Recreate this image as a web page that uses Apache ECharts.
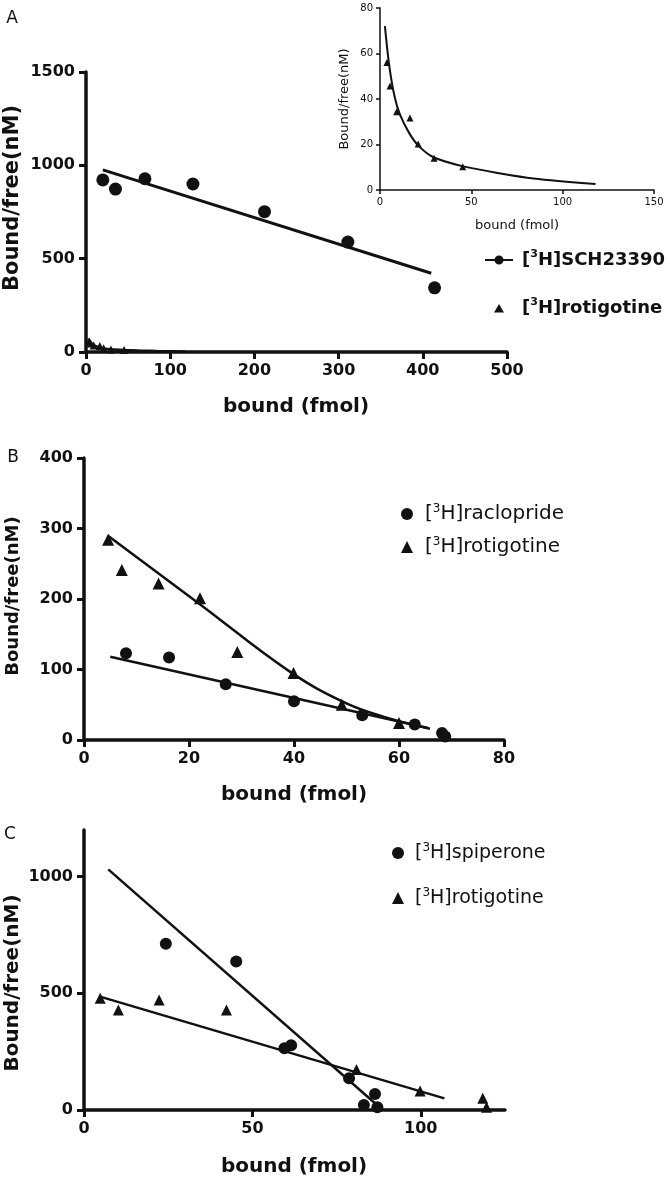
<!DOCTYPE html>
<html>
<head>
<meta charset="utf-8">
<script src="https://cdn.jsdelivr.net/npm/echarts@6.0.0/dist/echarts.min.js"></script>
<style>
  html, body { margin: 0; padding: 0; background: #fff; }
  #chart { width: 670px; height: 1182px; }
</style>
</head>
<body>
<div id="chart"></div>
<script>
// panel A: [3H]SCH23390 scatchard
const schX = [20, 35, 70, 127, 212, 311, 414]
const schY = [922, 873, 928, 900, 752, 589, 344]
const schFitX = [20, 410]
const schFitY = [976, 422]

// panel A (and inset): [3H]rotigotine
const rotAX = [3.8, 5.5, 9.1, 16.4, 20.9, 29.6, 45.3]
const rotAY = [56, 45.7, 34.4, 31.6, 20.2, 14, 10.2]
const rotACurveX = [2.7, 5, 8, 11, 16, 21, 29, 45, 66, 84, 118]
const rotACurveY = [72, 55, 41, 33, 25, 19.5, 14.5, 10.5, 7.3, 5.1, 2.6]

// panel B
const raclX = [8, 16.2, 27, 40, 53, 63, 68.2, 68.8]
const raclY = [123, 117, 79, 55, 35, 22, 10, 5]
const raclFitX = [5, 65.5]
const raclFitY = [118, 17]
const rotBX = [4.6, 7.2, 14.2, 22.1, 29.2, 39.9, 49.1, 60]
const rotBY = [284, 241, 222, 201, 125, 95, 50, 24]
const rotBFitX = [4.5, 22, 39.2, 50, 58, 65.9]
const rotBFitY = [290, 193, 97, 52, 31, 16]

// panel C
const spipX = [24.3, 45.2, 59.5, 61.5, 78.7, 83.1, 86.4, 87.1]
const spipY = [713, 636, 265, 278, 136, 21, 69, 12]
const spipFitX = [7.2, 87.5]
const spipFitY = [1031, 15]
const rotCX = [4.8, 10.2, 22.3, 42.3, 80.9, 99.8, 118.4, 119.5]
const rotCY = [479, 429, 471, 429, 174, 81, 50, 12]
const rotCFitX = [5, 107]
const rotCFitY = [485, 50]

// tick values
const ticksAX = [0, 100, 200, 300, 400, 500]
const ticksAY = [0, 500, 1000, 1500]
const ticksInsetX = [0, 50, 100, 150]
const ticksInsetY = [0, 20, 40, 60, 80]
const ticksBX = [0, 20, 40, 60, 80]
const ticksBY = [0, 100, 200, 300, 400]
const ticksCX = [0, 50, 100]
const ticksCY = [0, 500, 1000]

const ink = '#111'
const fam = 'DejaVu Sans'

const pairs = (xs, ys) => xs.map((x, i) => [x, ys[i]])

function axis(gridIndex, max, ticks, opt) {
    return {
        type: 'value',
        gridIndex: gridIndex,
        min: 0,
        max: max,
        splitLine: { show: false },
        axisLine: { show: true, onZero: false, lineStyle: { color: ink, width: opt.lw } },
        axisTick: { show: true, length: opt.tl, customValues: ticks, lineStyle: { color: ink, width: opt.tw } },
        axisLabel: {
            customValues: ticks,
            formatter: (v) => String(v),
            margin: opt.margin,
            color: ink,
            fontFamily: fam,
            fontWeight: opt.bold ? 'bold' : 'normal',
            fontSize: opt.fs
        }
    }
}

const big = { lw: 3.5, tl: 7, tw: 3, margin: 11, bold: true, fs: 16 }
const small = { lw: 1.5, tl: 4, tw: 1.5, margin: 7, bold: false, fs: 10 }

function scatter(name, xi, data, symbol, size) {
    return {
        name: name, type: 'scatter', xAxisIndex: xi, yAxisIndex: xi,
        data: data, symbol: symbol, symbolSize: size,
        itemStyle: { color: ink, opacity: 1 }, z: 5
    }
}

function fit(name, xi, data, width, smooth) {
    return {
        name: name, type: 'line', xAxisIndex: xi, yAxisIndex: xi,
        data: data, showSymbol: false, symbol: 'none',
        smooth: smooth || false,
        lineStyle: { color: ink, width: width }, z: 3, silent: true
    }
}

function label(text, x, y, size, weight, rotate) {
    return {
        type: 'text', x: x, y: y, rotation: rotate ? Math.PI / 2 : 0,
        style: {
            text: text, fill: ink,
            font: weight + ' ' + size + 'px "' + fam + '"',
            align: 'center', verticalAlign: 'middle'
        }
    }
}

const supFmt = (name) => name.replace('³', '{sup|3}')

const schIcon = 'path://M0,3.5H28V5.5H0Z M9.5,4.5A4.5,4.5 0 1 1 18.5,4.5A4.5,4.5 0 1 1 9.5,4.5Z'
const triIcon = 'path://M0,0M28,10M14,1L19,9.5L9,9.5Z'

const chart = echarts.init(document.getElementById('chart'))
chart.setOption({
    animation: false,
    backgroundColor: '#fff',
    grid: [
        { left: 86, top: 72, width: 421, height: 280 },
        { left: 380, top: 8, width: 274, height: 182 },
        { left: 84, top: 458, width: 420, height: 282 },
        { left: 84, top: 830, width: 421, height: 280 }
    ],
    xAxis: [
        axis(0, 500, ticksAX, big),
        axis(1, 150, ticksInsetX, small),
        axis(2, 80, ticksBX, big),
        axis(3, 125, ticksCX, big)
    ],
    yAxis: [
        axis(0, 1500, ticksAY, big),
        axis(1, 80, ticksInsetY, small),
        axis(2, 400, ticksBY, big),
        axis(3, 1200, ticksCY, big)
    ],
    legend: [
        {
            left: 485, top: 249, orient: 'vertical', selectedMode: false, padding: 0,
            itemWidth: 28, itemHeight: 10, itemGap: 26,
            data: [{ name: '[³H]SCH23390', icon: schIcon }, { name: '[³H]rotigotine', icon: triIcon }],
            formatter: supFmt,
            textStyle: {
                fontFamily: fam, fontWeight: 'bold', fontSize: 18, color: ink, lineHeight: 22,
                padding: [0, 0, 0, 4],
                rich: { sup: { fontFamily: fam, fontWeight: 'bold', fontSize: 11, verticalAlign: 'top', color: ink } }
            }
        },
        {
            left: 401, top: 503, orient: 'vertical', selectedMode: false, padding: 0,
            itemWidth: 12, itemHeight: 12, itemGap: 11,
            data: ['[³H]raclopride', '[³H]rotigotine'],
            formatter: supFmt,
            textStyle: {
                fontFamily: fam, fontSize: 20, color: ink, lineHeight: 22,
                padding: [0, 0, 0, 7],
                rich: { sup: { fontFamily: fam, fontSize: 12, verticalAlign: 'top', color: ink } }
            }
        },
        {
            left: 392, top: 842, orient: 'vertical', selectedMode: false, padding: 0,
            itemWidth: 12, itemHeight: 12, itemGap: 23,
            data: ['[³H]spiperone', '[³H]rotigotine'],
            formatter: supFmt,
            textStyle: {
                fontFamily: fam, fontSize: 19, color: ink, lineHeight: 22,
                padding: [0, 0, 0, 6],
                rich: { sup: { fontFamily: fam, fontSize: 12, verticalAlign: 'top', color: ink } }
            }
        }
    ],
    graphic: [
        label('A', 12, 19, 17, 'normal'),
        label('B', 13, 458, 17, 'normal'),
        label('C', 10, 835, 17, 'normal'),
        label('Bound/free(nM)', 13, 198, 21, 'bold', true),
        label('bound (fmol)', 296, 407, 20, 'bold'),
        label('Bound/free(nM)', 345, 99, 13, 'normal', true),
        label('bound (fmol)', 517, 226, 13, 'normal'),
        label('Bound/free(nM)', 13, 596, 18, 'bold', true),
        label('bound (fmol)', 294, 795, 20, 'bold'),
        label('Bound/free(nM)', 13, 983, 20, 'bold', true),
        label('bound (fmol)', 294, 1167, 20, 'bold')
    ],
    series: [
        scatter('[³H]SCH23390', 0, pairs(schX, schY), 'circle', 13),
        fit('fitSCH', 0, pairs(schFitX, schFitY), 3),
        scatter('[³H]rotigotine', 0, pairs(rotAX, rotAY), 'triangle', 8),
        fit('curveA', 0, pairs(rotACurveX, rotACurveY), 2.5, 0.3),

        scatter('rotInset', 1, pairs(rotAX, rotAY), 'triangle', 7),
        fit('curveInset', 1, pairs(rotACurveX, rotACurveY), 2, 0.3),

        scatter('[³H]raclopride', 2, pairs(raclX, raclY), 'circle', 12),
        fit('fitRacl', 2, pairs(raclFitX, raclFitY), 2.5),
        scatter('[³H]rotigotine', 2, pairs(rotBX, rotBY), 'triangle', 12),
        fit('fitRotB', 2, pairs(rotBFitX, rotBFitY), 2.5, 0.4),

        scatter('[³H]spiperone', 3, pairs(spipX, spipY), 'circle', 12),
        fit('fitSpip', 3, pairs(spipFitX, spipFitY), 2.5),
        scatter('[³H]rotigotine', 3, pairs(rotCX, rotCY), 'triangle', 11),
        fit('fitRotC', 3, pairs(rotCFitX, rotCFitY), 2.5)
    ]
})
</script>
</body>
</html>
